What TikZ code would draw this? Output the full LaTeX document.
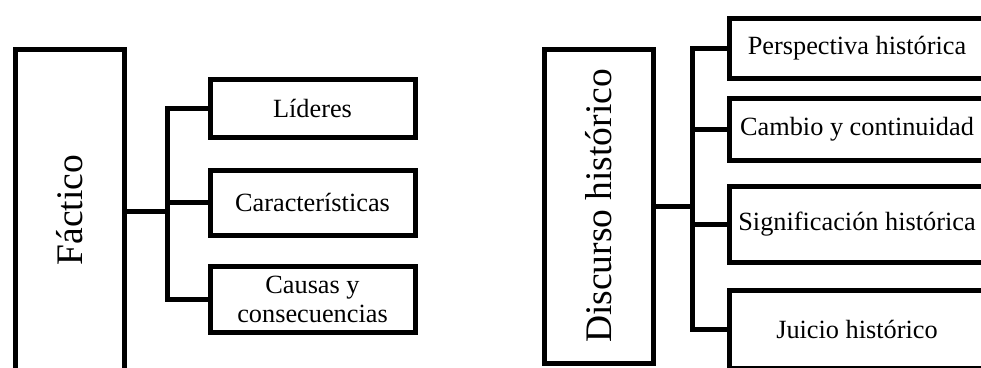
\documentclass[tikz,border=0pt]{standalone}
\usepackage{fontspec}
\setmainfont{Liberation Serif}
\tikzset{
  tema/.style={draw, line width=5pt, inner sep=0pt, align=center,
    font=\fontsize{26.3}{29}\selectfont},
  eje/.style={draw, line width=5pt, inner sep=0pt,
    font=\fontsize{37.5}{42}\selectfont},
  rama/.style={line width=5pt}
}
\begin{document}
\begin{tikzpicture}[x=1pt,y=-1pt]
  \useasboundingbox (0,0) rectangle (981,367);

  % bloque izquierdo
  \node[eje, minimum width=109pt, minimum height=324pt] (factico) at (69.5,211) {};
  \node[rotate=90, font=\fontsize{37.5}{42}\selectfont] (facticotxt) at (69.5,210) {Fáctico};

  \node[tema, minimum width=205pt, minimum height=58pt] (lideres) at (312.5,108) {Líderes};
  \node[tema, minimum width=205pt, minimum height=65pt] (caract) at (312.5,202.5) {Características};
  \node[tema, minimum width=205pt, minimum height=66pt] (causas) at (312.5,299) {Causas y\\consecuencias};

  \coordinate (busA) at (167,211);
  \draw[rama] (factico.east) -- (busA);
  \draw[rama] (lideres.west) -| (busA) |- (causas.west);
  \draw[rama] (caract.west) -- (caract.west -| busA);

  % bloque derecho
  \node[eje, minimum width=109pt, minimum height=314pt] (discurso) at (598.5,206) {};
  \node[rotate=90, font=\fontsize{37.5}{42}\selectfont] (discursotxt) at (598.5,206) {Discurso histórico};

  \node[tema, minimum width=256pt, minimum height=60pt] (perspectiva) at (857,48) {Perspectiva histórica};
  \node[tema, minimum width=256pt, minimum height=62pt] (cambio) at (857,129) {Cambio y continuidad};
  \node[tema, minimum width=256pt, minimum height=76pt] (signif) at (857,224) {Significación histórica};
  \node[tema, minimum width=256pt, minimum height=78pt] (juicio) at (857,329) {Juicio histórico};

  \coordinate (busB) at (692,206);
  \draw[rama] (discurso.east) -- (busB);
  \draw[rama] (perspectiva.west) -| (busB) |- (juicio.west);
  \draw[rama] (cambio.west) -- (cambio.west -| busB);
  \draw[rama] (signif.west) -- (signif.west -| busB);
\end{tikzpicture}
\end{document}
